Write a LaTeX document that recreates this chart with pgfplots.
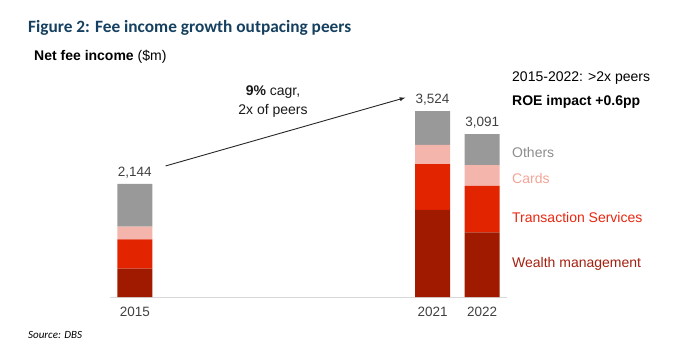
\documentclass[border=0pt]{standalone}
\usepackage{fontspec}
\setmainfont{Liberation Sans}
\newfontfamily\carlito{Carlito}
\usepackage{pgfplots}
\pgfplotsset{compat=1.18}
\definecolor{cWealth}{HTML}{A01A00}
\definecolor{cTS}{HTML}{E32400}
\definecolor{cCards}{HTML}{F4B6AC}
\definecolor{cOthers}{HTML}{999999}
\definecolor{tOthers}{HTML}{8C8C8C}
\definecolor{tCards}{HTML}{F2A596}
\definecolor{tTS}{HTML}{E8260F}
\definecolor{tWealth}{HTML}{A3200F}
\definecolor{titleblue}{HTML}{15405F}
\definecolor{numgrey}{HTML}{404040}
\begin{document}
\begin{tikzpicture}[x=1pt,y=1pt]
\path (0,0) rectangle (678,354);
\begin{axis}[
  at={(110pt,57pt)}, anchor=south west,
  scale only axis, width=397pt, height=237.2pt,
  xmin=-0.5, xmax=7.5, ymin=0, ymax=4500,
  ybar stacked, bar width=35pt,
  axis y line=none, axis x line*=bottom,
  x axis line style={draw=black!15, line width=0.8pt, -},
  xtick={0,6,7}, xticklabels={2015,2021,2022},
  major tick length=0pt,
  xticklabel style={font=\fontsize{13.5}{16}\selectfont, text=numgrey, yshift=-7pt},
  clip=false,
]
\addplot[fill=cWealth, draw=none] coordinates {(0,537) (6,1651) (7,1228)};
\addplot[fill=cTS, draw=none] coordinates {(0,558) (6,869) (7,882)};
\addplot[fill=cCards, draw=none] coordinates {(0,239) (6,366) (7,393)};
\addplot[fill=cOthers, draw=none] coordinates {(0,810) (6,638) (7,588)};
\node[anchor=south, text=numgrey, font=\fontsize{13.5}{16}\selectfont, inner sep=0pt] at (axis cs:0,2144) [yshift=6pt] {2,144};
\node[anchor=south, text=numgrey, font=\fontsize{13.5}{16}\selectfont, inner sep=0pt] at (axis cs:6,3524) [yshift=6pt] {3,524};
\node[anchor=south, text=numgrey, font=\fontsize{13.5}{16}\selectfont, inner sep=0pt] at (axis cs:7,3091) [yshift=6pt] {3,091};
\draw[-latex, line width=0.9pt, black!85] (axis cs:0.62,2486) -- (axis cs:5.45,3782);
\end{axis}
% titles
\node[anchor=west, inner sep=0pt, text=titleblue, font=\carlito\bfseries\fontsize{17.3}{20}\selectfont] at (28,326) {Figure 2: Fee income growth outpacing peers};
\node[anchor=west, inner sep=0pt, font=\fontsize{14}{16}\selectfont] at (34,297.3) {\textbf{Net fee income} (\$m)};
\node[anchor=west, inner sep=0pt, font=\carlito\itshape\fontsize{11}{13}\selectfont] at (28,19) {Source: DBS};
% arrow text
\node[align=center, inner sep=0pt, font=\fontsize{14}{19}\selectfont, text=black!90] at (273,252.8) {\textbf{9\%} cagr,\\2x of peers};
% right side
\node[anchor=west, inner sep=0pt, font=\fontsize{14}{16}\selectfont] at (512,275.7) {2015-2022: >2x peers};
\node[anchor=west, inner sep=0pt, font=\bfseries\fontsize{14}{16}\selectfont] at (512,251.7) {ROE impact +0.6pp};
\node[anchor=west, inner sep=0pt, text=tOthers, font=\fontsize{14}{16}\selectfont] at (512,201.3) {Others};
\node[anchor=west, inner sep=0pt, text=tCards, font=\fontsize{14}{16}\selectfont] at (512,175.7) {Cards};
\node[anchor=west, inner sep=0pt, text=tTS, font=\fontsize{14}{16}\selectfont] at (512,136.3) {Transaction Services};
\node[anchor=west, inner sep=0pt, text=tWealth, font=\fontsize{14}{16}\selectfont] at (512,90) {Wealth management};
\end{tikzpicture}
\end{document}
